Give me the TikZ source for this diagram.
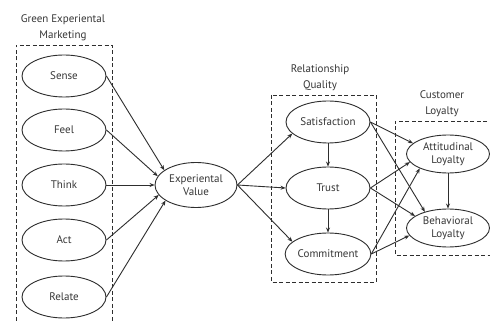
\documentclass[tikz,border=0pt]{standalone}
\usepackage{fontspec}
\setmainfont{PT Sans}
\usetikzlibrary{shapes.geometric,arrows.meta}
\definecolor{ink}{HTML}{2E2E2E}
\definecolor{txt}{HTML}{363636}
\begin{document}
\begin{tikzpicture}[x=1pt,y=-1pt,
  ell/.style={ellipse,draw=ink,line width=0.9pt,minimum width=84pt,minimum height=42pt,inner sep=0pt,align=center,text=txt,font=\fontsize{11}{13}\selectfont},
  grp/.style={draw=ink,dashed,line width=0.8pt,dash pattern=on 4pt off 2.5pt},
  ttl/.style={align=center,text=txt,font=\fontsize{11}{16}\selectfont},
  arr/.style={-{Stealth[length=5pt,width=4pt]},draw=ink,line width=0.9pt}]
\useasboundingbox[fill=white] (0,0) rectangle (490,323);
% group boxes
\draw[grp] (16,340) -- (16,45) -- (112,45) -- (112,340);
\draw[grp] (271,95) rectangle (376,282);
\draw[grp] (500,121) -- (395,121) -- (395,255) -- (500,255);
% titles
\node[ttl] (t1) at (63,28) {Green Experiental\\Marketing};
\node[ttl] (t2) at (320,78) {Relationship\\Quality};
\node[ttl] (t3) at (442,104) {Customer\\Loyalty};
% nodes
\node[ell] (sense) at (64,76) {Sense};
\node[ell] (feel) at (64,130) {Feel};
\node[ell] (think) at (64,185) {Think};
\node[ell] (act) at (64,240) {Act};
\node[ell] (relate) at (64,297) {Relate};
\node[ell,minimum width=82pt,minimum height=45pt] (ev) at (196,185) {Experiental\\Value};
\node[ell] (sat) at (328,122) {Satisfaction};
\node[ell] (trust) at (328,188) {Trust};
\node[ell] (com) at (328,254) {Commitment};
\node[ell,minimum width=83pt,minimum height=38pt] (att) at (448,154) {Attitudinal\\Loyalty};
\node[ell,minimum width=83pt,minimum height=38pt] (beh) at (448,228) {Behavioral\\Loyalty};
% arrows
\draw[arr] (sense.east) -- (ev.155);
\draw[arr] (feel.east) -- (ev.167);
\draw[arr] (think.east) -- (ev.west);
\draw[arr] (act.east) -- (ev.195);
\draw[arr] (relate.east) -- (ev.207);
\draw[arr] (ev.east) -- (sat.198);
\draw[arr] (ev.east) -- (trust.west);
\draw[arr] (ev.east) -- (com.161);
\draw[arr] (sat.south) -- (trust.north);
\draw[arr] (trust.south) -- (com.north);
\draw[arr] (sat.east) -- (att.163);
\draw[arr] (sat.east) -- (beh.145);
\draw[arr] (trust.east) -- (att.192);
\draw[arr] (trust.east) -- (beh.160);
\draw[arr] (com.east) -- (att.207);
\draw[arr] (com.east) -- (beh.191);
\draw[arr] (att.south) -- (beh.north);
\end{tikzpicture}
\end{document}
